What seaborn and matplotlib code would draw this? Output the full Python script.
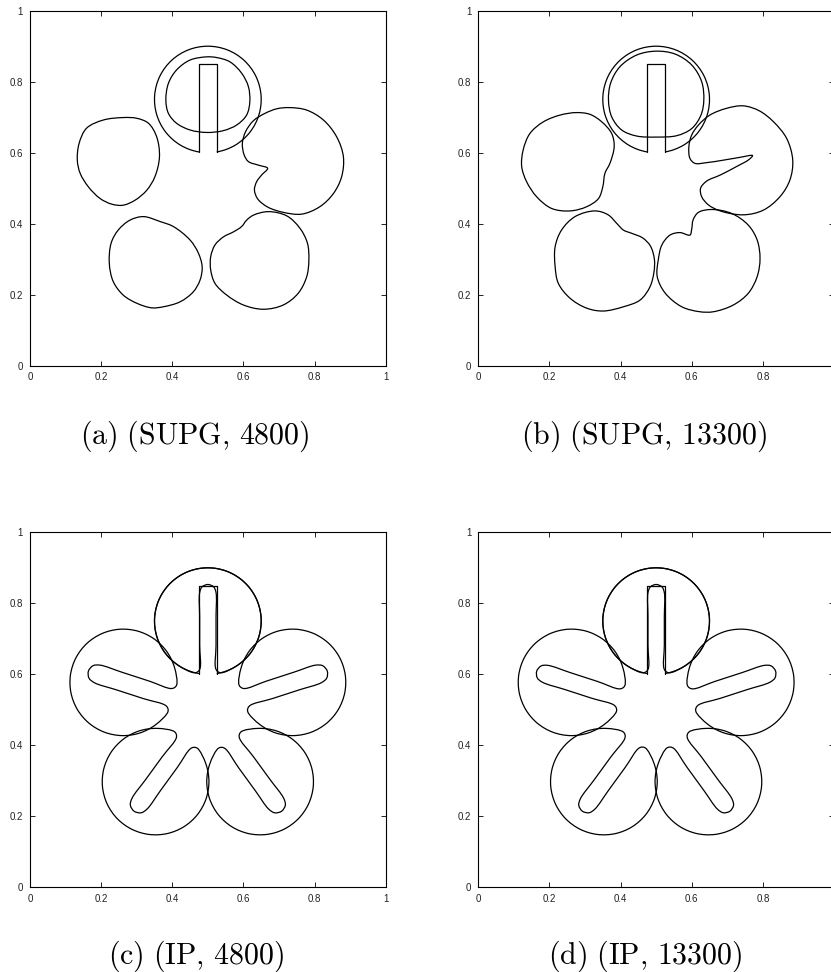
import numpy as np
import pandas as pd
import matplotlib
matplotlib.use("Agg")
import matplotlib.pyplot as plt
from matplotlib.path import Path
from matplotlib.patches import PathPatch, Arc
import seaborn as sns

# ---------------------------------------------------------------------------
# Reference slotted disk (Zalesak) and rotation set-up
# ---------------------------------------------------------------------------
DISK_CENTER = (0.5, 0.75)
DISK_RADIUS = 0.15
SLOT_WIDTH = 0.05
SLOT_TOP = 0.85
ROTATION_CENTER = (0.5, 0.5)
ORBIT_RADIUS = 0.25

TICKS = [0, 0.2, 0.4, 0.6, 0.8, 1]
TICK_LABELS = ["0", "0.2", "0.4", "0.6", "0.8", "1"]

CAPTIONS = ["(a) (SUPG, 4800)", "(b) (SUPG, 13300)",
            "(c) (IP, 4800)", "(d) (IP, 13300)"]

# ---------------------------------------------------------------------------
# SUPG, 4800 cells: zero level set at the five snapshots (x, y)
# ---------------------------------------------------------------------------
supg4800_top = [(0.497, 0.870), (0.450, 0.861), (0.412, 0.833), (0.389, 0.795),
                (0.382, 0.748), (0.389, 0.711), (0.412, 0.683), (0.450, 0.664),
                (0.497, 0.657), (0.543, 0.662), (0.581, 0.678), (0.609, 0.706),
                (0.618, 0.744), (0.614, 0.786), (0.595, 0.824), (0.562, 0.856),
                (0.525, 0.868)]
supg4800_left = [(0.262, 0.699), (0.206, 0.692), (0.159, 0.669), (0.138, 0.626),
                 (0.133, 0.579), (0.141, 0.542), (0.164, 0.504), (0.197, 0.471),
                 (0.230, 0.455), (0.261, 0.452), (0.295, 0.466), (0.328, 0.494),
                 (0.351, 0.532), (0.364, 0.589), (0.356, 0.645), (0.333, 0.683),
                 (0.300, 0.697)]
supg4800_lower_left = [(0.319, 0.420), (0.366, 0.406), (0.403, 0.392), (0.450, 0.354),
                       (0.473, 0.318), (0.484, 0.279), (0.478, 0.241), (0.459, 0.208),
                       (0.422, 0.180), (0.375, 0.166), (0.342, 0.163), (0.300, 0.176),
                       (0.262, 0.199), (0.234, 0.237), (0.223, 0.288), (0.228, 0.345),
                       (0.248, 0.382), (0.281, 0.410)]
supg4800_lower_right = [(0.670, 0.434), (0.628, 0.424), (0.609, 0.410), (0.595, 0.392),
                        (0.572, 0.377), (0.544, 0.363), (0.520, 0.340), (0.508, 0.307),
                        (0.508, 0.270), (0.520, 0.232), (0.553, 0.199), (0.600, 0.171),
                        (0.656, 0.159), (0.712, 0.171), (0.754, 0.204), (0.778, 0.251),
                        (0.784, 0.298), (0.780, 0.345), (0.759, 0.387), (0.722, 0.422)]
supg4800_right = [(0.731, 0.727), (0.778, 0.720), (0.825, 0.692), (0.862, 0.645),
                  (0.881, 0.589), (0.876, 0.532), (0.853, 0.485), (0.815, 0.448),
                  (0.764, 0.427), (0.712, 0.432), (0.668, 0.447), (0.640, 0.470),
                  (0.631, 0.495), (0.637, 0.518), (0.651, 0.537), (0.668, 0.556),
                  (0.642, 0.565), (0.614, 0.575), (0.602, 0.594), (0.597, 0.626),
                  (0.606, 0.659), (0.628, 0.690), (0.661, 0.711), (0.695, 0.724)]

# ---------------------------------------------------------------------------
# SUPG, 13300 cells
# ---------------------------------------------------------------------------
supg13300_top = [(0.499, 0.886), (0.445, 0.875), (0.398, 0.842), (0.372, 0.796),
                 (0.366, 0.748), (0.375, 0.701), (0.403, 0.664), (0.445, 0.647),
                 (0.501, 0.644), (0.558, 0.648), (0.600, 0.668), (0.626, 0.706),
                 (0.634, 0.748), (0.628, 0.800), (0.600, 0.847), (0.553, 0.878)]
supg13300_left = [(0.276, 0.713), (0.230, 0.706), (0.183, 0.687), (0.145, 0.654),
                  (0.126, 0.607), (0.122, 0.561), (0.136, 0.518), (0.164, 0.476),
                  (0.206, 0.443), (0.258, 0.436), (0.305, 0.448), (0.338, 0.471),
                  (0.350, 0.504), (0.356, 0.542), (0.370, 0.570), (0.382, 0.617),
                  (0.375, 0.654), (0.347, 0.687), (0.314, 0.708)]
supg13300_lower_left = [(0.328, 0.436), (0.365, 0.425), (0.390, 0.400), (0.408, 0.382),
                        (0.431, 0.373), (0.462, 0.360), (0.484, 0.337), (0.495, 0.300),
                        (0.494, 0.265), (0.483, 0.223), (0.455, 0.185), (0.408, 0.166),
                        (0.351, 0.154), (0.305, 0.162), (0.258, 0.190), (0.225, 0.232),
                        (0.216, 0.279), (0.216, 0.335), (0.234, 0.382), (0.272, 0.420)]
supg13300_lower_right = [(0.656, 0.440), (0.619, 0.432), (0.604, 0.411), (0.600, 0.385),
                         (0.595, 0.368), (0.567, 0.375), (0.539, 0.368), (0.516, 0.340),
                         (0.506, 0.298), (0.503, 0.251), (0.525, 0.205), (0.572, 0.166),
                         (0.623, 0.152), (0.661, 0.152), (0.717, 0.171), (0.759, 0.204),
                         (0.784, 0.251), (0.792, 0.302), (0.784, 0.354), (0.759, 0.396),
                         (0.712, 0.429)]
supg13300_right = [(0.745, 0.732), (0.790, 0.718), (0.830, 0.687), (0.867, 0.640),
                   (0.884, 0.579), (0.876, 0.523), (0.848, 0.476), (0.801, 0.438),
                   (0.745, 0.425), (0.680, 0.436), (0.647, 0.453), (0.628, 0.476),
                   (0.625, 0.500), (0.642, 0.520), (0.680, 0.537), (0.726, 0.561),
                   (0.760, 0.580), (0.771, 0.592), (0.736, 0.587), (0.689, 0.579),
                   (0.642, 0.572), (0.609, 0.570), (0.595, 0.584), (0.592, 0.617),
                   (0.600, 0.650), (0.619, 0.678), (0.651, 0.706), (0.698, 0.725)]

# ---------------------------------------------------------------------------
# IP runs: the slotted disk keeps its shape; one contour per snapshot angle
# (direction of the disk centre seen from the rotation centre, degrees)
# ---------------------------------------------------------------------------
SNAPSHOT_ANGLES = [90, 162, 234, 306, 18]
ip4800_slot_width = [0.046, 0.052, 0.052, 0.052, 0.052]
ip13300_slot_width = [0.046, 0.050, 0.050, 0.050, 0.050]
IP_SLOT_END = 0.103          # distance from disk centre to the slot end

# ---------------------------------------------------------------------------
sns.set_theme(style="ticks")
plt.rcParams.update({
    "font.family": ["Liberation Sans", "DejaVu Sans"],
    "mathtext.fontset": "cm",
    "axes.edgecolor": "black",
    "axes.linewidth": 0.8,
    "xtick.direction": "in", "ytick.direction": "in",
    "xtick.top": True, "ytick.right": True,
    "xtick.bottom": True, "ytick.left": True,
    "xtick.major.size": 3.6, "ytick.major.size": 3.6,
    "xtick.major.width": 0.7, "ytick.major.width": 0.7,
    "xtick.labelsize": 7, "ytick.labelsize": 7,
    "xtick.color": "#222222", "ytick.color": "#222222",
    "xtick.major.pad": 4.5, "ytick.major.pad": 5,
})

LINE_W = 0.9


def smooth_closed_path(points, alpha=0.5):
    """Closed centripetal Catmull-Rom curve through the points, as cubic Beziers."""
    P = np.asarray(points, float)
    n = len(P)
    verts = [P[0]]
    codes = [Path.MOVETO]
    for i in range(n):
        p0, p1, p2, p3 = P[i - 1], P[i], P[(i + 1) % n], P[(i + 2) % n]
        d1 = max(np.linalg.norm(p1 - p0), 1e-9) ** alpha
        d2 = max(np.linalg.norm(p2 - p1), 1e-9) ** alpha
        d3 = max(np.linalg.norm(p3 - p2), 1e-9) ** alpha
        b1 = (d1**2 * p2 - d2**2 * p0 + (2 * d1**2 + 3 * d1 * d2 + d2**2) * p1) / (3 * d1 * (d1 + d2))
        b2 = (d3**2 * p1 - d2**2 * p3 + (2 * d3**2 + 3 * d3 * d2 + d2**2) * p2) / (3 * d3 * (d3 + d2))
        verts += [b1, b2, p2]
        codes += [Path.CURVE4] * 3
    return Path(verts, codes)


def draw_contour(ax, points):
    ax.add_patch(PathPatch(smooth_closed_path(points), fill=False,
                           edgecolor="black", lw=LINE_W, joinstyle="round"))


def slotted_disk_points(angle_deg, width, slot_end):
    """Outline of a rounded-slot disk whose centre lies at angle_deg on the orbit."""
    R = DISK_RADIUS
    half = width / 2
    vm = -np.sqrt(R**2 - half**2)
    local = [(half, v) for v in (vm + 0.012, vm + 0.08, vm + 0.16, slot_end - half)]
    for a in (45, 90, 135):
        t = np.radians(a)
        local.append((half * np.cos(t), slot_end - half + half * np.sin(t)))
    local += [(-half, v) for v in (slot_end - half, vm + 0.16, vm + 0.08, vm + 0.012)]
    gap = np.degrees(np.arcsin(half / R))
    for a in np.linspace(270 - gap - 5, -90 + gap + 5, 18):
        t = np.radians(a)
        local.append((R * np.cos(t), R * np.sin(t)))
    local = np.array(local)
    phi = np.radians(angle_deg)
    v_hat = np.array([np.cos(phi), np.sin(phi)])
    u_hat = np.array([np.sin(phi), -np.cos(phi)])
    centre = np.array(ROTATION_CENTER) + ORBIT_RADIUS * v_hat
    return centre + local[:, :1] * u_hat + local[:, 1:] * v_hat


def draw_reference_disk(ax):
    cx, cy = DISK_CENTER
    R = DISK_RADIUS
    half = SLOT_WIDTH / 2
    gap = np.degrees(np.arcsin(half / R))
    ax.add_patch(Arc(DISK_CENTER, 2 * R, 2 * R, theta1=-90 + gap, theta2=270 - gap,
                     color="black", lw=LINE_W))
    y_mouth = cy - np.sqrt(R**2 - half**2)
    slot = pd.DataFrame({"x": [cx - half, cx - half, cx + half, cx + half],
                         "y": [y_mouth, SLOT_TOP, SLOT_TOP, y_mouth]})
    sns.lineplot(data=slot, x="x", y="y", sort=False, estimator=None,
                 color="black", lw=LINE_W, ax=ax)


def style_axes(ax, clipped_right=False):
    ax.set_xlim(0, 1)
    ax.set_ylim(0, 1)
    ax.set_xticks(TICKS)
    ax.set_yticks(TICKS)
    ax.set_xticklabels(TICK_LABELS)
    ax.set_yticklabels(TICK_LABELS)
    ax.set_xlabel("")
    ax.set_ylabel("")
    for s in ax.spines.values():
        s.set_visible(True)
        s.set_color("black")
    if clipped_right:
        # the right edge of these panels runs past the figure border
        ax.get_xticklabels()[-1].set_visible(False)


W, H = 831, 972
fig = plt.figure(figsize=(W / 100, H / 100), dpi=100)


def px_axes(left, top, right, bottom):
    return fig.add_axes([left / W, 1 - bottom / H, (right - left) / W, (bottom - top) / H])


ax_a = px_axes(30, 10.7, 385.7, 365.7)
ax_b = px_axes(478.3, 10.7, 834, 365.7)
ax_c = px_axes(30, 532.3, 385.7, 887.3)
ax_d = px_axes(478.3, 532.3, 834, 887.3)

supg_panels = [
    (ax_a, False, [supg4800_top, supg4800_left, supg4800_lower_left,
                   supg4800_lower_right, supg4800_right]),
    (ax_b, True, [supg13300_top, supg13300_left, supg13300_lower_left,
                  supg13300_lower_right, supg13300_right]),
]
for ax, clipped, contours in supg_panels:
    draw_reference_disk(ax)
    for pts in contours:
        draw_contour(ax, pts)
    style_axes(ax, clipped)

for ax, clipped, widths in [(ax_c, False, ip4800_slot_width),
                            (ax_d, True, ip13300_slot_width)]:
    draw_reference_disk(ax)
    for ang, w in zip(SNAPSHOT_ANGLES, widths):
        draw_contour(ax, slotted_disk_points(ang, w, IP_SLOT_END))
    style_axes(ax, clipped)

caption_pos = [(195, 436), (644, 436), (196, 956), (645, 956)]
for text, (cx, cy) in zip(CAPTIONS, caption_pos):
    mt = "$\\mathrm{" + text.replace(", ", ",\\,").replace(" ", "\\ ") + "}$"
    fig.text(cx / W, 1 - cy / H, mt, ha="center", va="center", fontsize=21.5,
             color="black")

fig.savefig("out.png", dpi=100)
